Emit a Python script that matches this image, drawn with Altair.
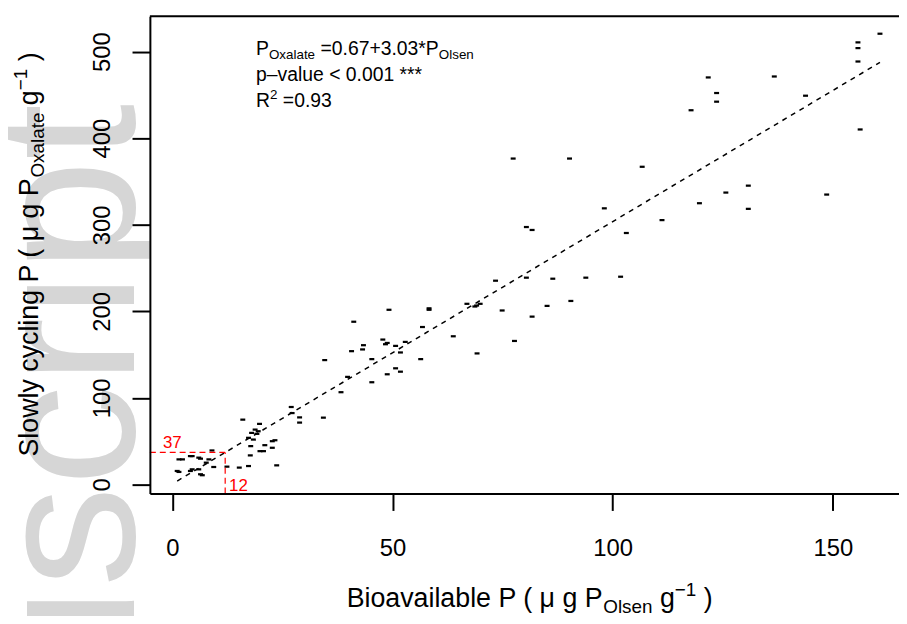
import altair as alt
import pandas as pd

# ---------------- data ----------------
olsen = [160.7, 155.7, 155.7, 155.7, 121.7, 136.7, 123.6, 123.6, 117.8, 143.8,
         156.2, 106.7, 130.8, 125.7, 148.6, 119.7, 130.8, 111.2,
         77.4, 90.2, 98.1, 103.1, 80.4, 81.7, 73.4, 74.9, 80.4, 86.4,
         93.9, 101.8, 85.1, 90.5, 81.7, 77.7, 69.2, 66.9, 68.7, 69.9,
         69.1, 63.8, 58.3, 58.3, 56.8, 56.4, 52.9, 49.2, 47.8, 48.4,
         48.8, 50.7, 51.8, 50.7, 51.8, 48.8, 45.3, 45.3, 43.4, 43.2,
         40.7, 41.2, 39.8, 38.3, 34.6, 34.3, 27.0, 27.2, 28.9, 28.9,
         16.0, 19.8, 18.8, 19.5, 18.0, 19.2, 17.3, 18.4, 17.8, 21.0,
         22.7, 23.3, 20.7, 19.9, 22.7, 17.7, 23.7, 17.3, 15.2, 12.4,
         9.4, 9.0, 8.3, 7.7, 6.4, 6.0, 4.1, 4.5, 2.3, 1.5,
         1.1, 1.5, 4.1, 4.5, 6.0, 6.4, 6.8]
oxalate = [520.7, 510.7, 504.1, 488.6, 470.2, 471.3, 452.2, 442.2, 432.3, 449.1,
           410.1, 367.0, 345.2, 337.2, 334.9, 324.9, 318.4, 305.4,
           376.5, 376.5, 319.0, 290.5, 297.4, 294.0, 235.4, 201.0, 238.9, 237.7,
           238.9, 240.0, 206.3, 212.0, 193.9, 165.8, 151.4, 208.7, 205.6, 208.7,
           206.7, 171.2, 201.8, 203.5, 181.9, 144.8, 164.7, 201.8, 167.4, 162.0,
           163.5, 160.1, 152.5, 134.2, 130.3, 127.3, 118.1, 144.8, 160.9, 156.0,
           154.0, 188.0, 124.3, 106.6, 143.7, 77.2, 89.5, 82.5, 77.5, 71.5,
           74.9, 70.0, 63.4, 61.5, 59.6, 58.5, 53.9, 51.9, 44.3, 45.4,
           50.0, 51.1, 38.5, 38.5, 42.4, 33.6, 22.1, 21.3, 19.5, 20.6,
           20.2, 39.3, 29.0, 25.2, 29.8, 31.0, 32.8, 32.8, 29.0, 29.0,
           15.6, 14.5, 15.6, 17.5, 17.5, 11.8, 10.7]

reg_x = [1.1, 160.7]
intercept, slope = 0.67, 3.03

cut_x, cut_y = 12, 37
cut_labels = ["37", "12"]
cut_label_x = [0.0, 15.0]
cut_label_y = [41.6, -7.7]

x_ticks = [0, 50, 100, 150]
y_ticks = [0, 100, 200, 300, 400, 500]

# ---------------- layout ----------------
W, H = 755, 481
XPX = 4.438
XDOM = [-5.1, -5.1 + W / XPX]
YDOM = [-10.5, 540.8]
FONT = "Liberation Sans"

HW = {' ': 278, '(': 333, ')': 333, '*': 389, '+': 584, '.': 278, '<': 584, '=': 584,
      '–': 556, '−': 584, 'B': 667, 'O': 778, 'P': 667, 'R': 722, 'S': 667,
      'a': 556, 'b': 556, 'c': 500, 'e': 556, 'g': 556, 'i': 222, 'l': 222,
      'n': 556, 'o': 556, 'p': 556, 's': 500, 't': 278, 'u': 556, 'v': 500,
      'w': 722, 'x': 500, 'y': 500, 'μ': 576}


def tw(s, size):
    return sum(HW.get(c, 556) for c in s) / 1000 * size


one = pd.DataFrame({"a": [0]})


def txt(s, px, py, size, color="black", angle=0, align="left", baseline="alphabetic"):
    return alt.Chart(one).mark_text(
        text=s, font=FONT, fontSize=size, color=color, angle=angle,
        align=align, baseline=baseline
    ).encode(x=alt.value(px), y=alt.value(py))


def split_lead(s):
    core = s.lstrip(" ")
    return s[:len(s) - len(core)], core


def compose_h(pieces, x0, y0, center=False):
    total = sum(tw(s, f) for s, f, _ in pieces)
    x = x0 - total / 2 if center else x0
    out = []
    for s, f, dy in pieces:
        lead, core = split_lead(s)
        out.append(txt(core, x + tw(lead, f), y0 + dy, f))
        x += tw(s, f)
    return out


def compose_v(pieces, x0, yc):
    total = sum(tw(s, f) for s, f, _ in pieces)
    y = yc + total / 2
    out = []
    for s, f, dy in pieces:
        lead, core = split_lead(s)
        out.append(txt(core, x0 + dy, y - tw(lead, f), f, angle=270))
        y -= tw(s, f)
    return out


xs = alt.Scale(domain=XDOM, nice=False, zero=False)
ys = alt.Scale(domain=YDOM, nice=False, zero=False)
xax = alt.Axis(values=x_ticks, title=None, grid=False, domainColor="black", domainWidth=2,
               tickColor="black", tickWidth=2, tickSize=17, labelFont=FONT, labelFontSize=24,
               labelColor="black", labelPadding=26, labelBaseline="top", labelFlush=False,
               labelOverlap=False, zindex=1)
yax = alt.Axis(values=y_ticks, title=None, grid=False, domainColor="black", domainWidth=2,
               tickColor="black", tickWidth=2, tickSize=18, labelFont=FONT, labelFontSize=24,
               labelColor="black", labelPadding=23, labelAngle=270, labelAlign="center",
               labelBaseline="alphabetic", labelFlush=False, labelOverlap=False, zindex=1)


def enc(ch):
    return ch.encode(x=alt.X("x:Q", scale=xs, axis=xax), y=alt.Y("y:Q", scale=ys, axis=yax))


pts_df = pd.DataFrame({"x": olsen, "y": oxalate})
reg_df = pd.DataFrame({"x": reg_x, "y": [intercept + slope * v for v in reg_x]})
hcut_df = pd.DataFrame({"x": [XDOM[0], cut_x], "y": [cut_y, cut_y]})
vcut_df = pd.DataFrame({"x": [cut_x, cut_x], "y": [YDOM[0], cut_y]})
lab_df = pd.DataFrame({"x": cut_label_x, "y": cut_label_y, "t": cut_labels})

watermark = alt.Chart(one).mark_text(
    text="Manuscript", font=FONT, fontSize=204, color="#d6d6d6", angle=270,
    align="right", baseline="alphabetic"
).encode(x=alt.value(-16), y=alt.value(88))

white = alt.Chart(one).mark_rect(color="white").encode(
    x=alt.value(0), x2=alt.value(W), y=alt.value(0), y2=alt.value(H))

points = enc(alt.Chart(pts_df).mark_point(
    shape="M-1,-0.45L1,-0.45L1,0.45L-1,0.45Z", filled=True, color="black",
    size=25, opacity=1))

reg = enc(alt.Chart(reg_df).mark_line(color="black", strokeWidth=1.5, strokeDash=[5, 5]))
hcut = enc(alt.Chart(hcut_df).mark_line(color="red", strokeWidth=1.2, strokeDash=[6, 4]))
vcut = enc(alt.Chart(vcut_df).mark_line(color="red", strokeWidth=1.2, strokeDash=[6, 4]))
labs = enc(alt.Chart(lab_df).mark_text(font=FONT, fontSize=17, color="red",
                                       align="center", baseline="alphabetic")).encode(text="t:N")

top = alt.Chart(one).mark_rule(color="black", strokeWidth=2).encode(
    x=alt.value(0), x2=alt.value(W), y=alt.value(0))

# annotation
eq = []
eq += compose_h([("P", 19.5, 0), ("Oxalate", 13.5, 4), (" =0.67+3.03*P", 19.5, 0), ("Olsen", 13.5, 4)], 107, 39)
eq += compose_h([("p–value < 0.001 ***", 19.5, 0)], 107, 65)
eq += compose_h([("R", 19.5, 0), ("2", 13.5, -8), (" =0.93", 19.5, 0)], 107, 91)

xc = (XDOM[0] + 167.4) / 2
xc_px = (xc - XDOM[0]) * XPX
xtitle = compose_h([("Bioavailable P ( μ g P", 27, 0), ("Olsen", 19, 6), (" g", 27, 0),
                    ("−1", 19, -11), (" )", 27, 0)], xc_px, 595, center=True)
ytitle = compose_v([("Slowly cycling P ( μ g P", 27, 0), ("Oxalate", 19, 6), (" g", 27, 0),
                    ("−1", 19, -11), (" )", 27, 0)], -113, 240)

chart = alt.layer(watermark, white, points, reg, hcut, vcut, labs, top, *eq, *xtitle, *ytitle).properties(
    width=W, height=H,
    autosize=alt.AutoSizeParams(type="none"),
    padding={"left": 143, "top": 6, "right": 0, "bottom": 121},
).configure_view(strokeWidth=0, fill="white").configure(background="white")

chart.save("out.html", embed_options={"renderer": "svg", "actions": False})
